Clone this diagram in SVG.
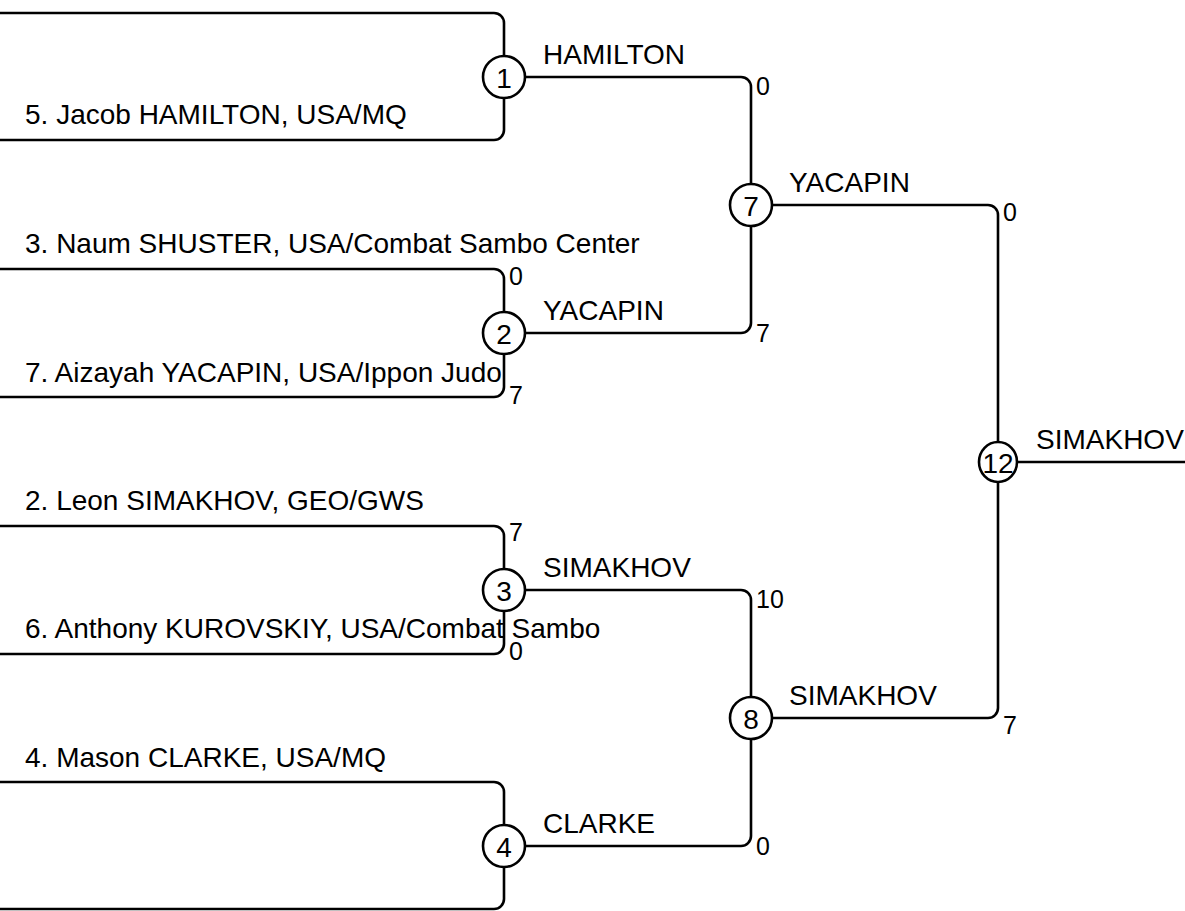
<svg xmlns="http://www.w3.org/2000/svg" width="1185" height="911" viewBox="0 0 1185 911">
<style>
.ln{fill:none;stroke:#000;stroke-width:2.6}
.c{fill:#fff;stroke:#000;stroke-width:2.6}
.t{font-family:"Liberation Sans",Arial,sans-serif;font-size:28px;fill:#000}
.s{font-family:"Liberation Sans",Arial,sans-serif;font-size:25px;fill:#000}
.n{font-family:"Liberation Sans",Arial,sans-serif;font-size:28px;fill:#000;text-anchor:middle;dominant-baseline:central}
</style>
<rect width="1185" height="911" fill="#fff"/>
<g id="connectors">
<path class="ln" d="M0,13 H494 A10,10 0 0 1 504,23 V56"/>
<path class="ln" d="M0,140 H494 A10,10 0 0 0 504,130 V98"/>
<path class="ln" d="M0,269 H494 A10,10 0 0 1 504,279 V312"/>
<path class="ln" d="M0,397 H494 A10,10 0 0 0 504,387 V354"/>
<path class="ln" d="M0,526 H494 A10,10 0 0 1 504,536 V569"/>
<path class="ln" d="M0,654 H494 A10,10 0 0 0 504,644 V611"/>
<path class="ln" d="M0,782 H494 A10,10 0 0 1 504,792 V825"/>
<path class="ln" d="M0,909 H494 A10,10 0 0 0 504,899 V867"/>
<path class="ln" d="M525,77 H741 A10,10 0 0 1 751,87 V184"/>
<path class="ln" d="M525,333 H741 A10,10 0 0 0 751,323 V226"/>
<path class="ln" d="M525,590 H741 A10,10 0 0 1 751,600 V697"/>
<path class="ln" d="M525,846 H741 A10,10 0 0 0 751,836 V739"/>
<path class="ln" d="M772,205 H988 A10,10 0 0 1 998,215 V442"/>
<path class="ln" d="M772,718 H988 A10,10 0 0 0 998,708 V482"/>
<path class="ln" d="M1017,462 H1185"/>
</g>
<g id="entrants">
<text class="t" x="25" y="124">5. Jacob HAMILTON, USA/MQ</text>
<text class="t" x="25" y="253">3. Naum SHUSTER, USA/Combat Sambo Center</text>
<text class="t" x="25" y="382">7. Aizayah YACAPIN, USA/Ippon Judo</text>
<text class="t" x="25" y="510">2. Leon SIMAKHOV, GEO/GWS</text>
<text class="t" x="25" y="638">6. Anthony KUROVSKIY, USA/Combat Sambo</text>
<text class="t" x="25" y="767">4. Mason CLARKE, USA/MQ</text>
</g>
<g id="m1"><circle class="c" cx="504" cy="77" r="21"/><text class="n" x="504" y="78">1</text><text class="t" x="543" y="64">HAMILTON</text></g>
<g id="m2"><circle class="c" cx="504" cy="333" r="21"/><text class="n" x="504" y="334">2</text><text class="t" x="543" y="320">YACAPIN</text><text class="s" x="509" y="285">0</text><text class="s" x="509" y="404">7</text></g>
<g id="m3"><circle class="c" cx="504" cy="590" r="21"/><text class="n" x="504" y="591">3</text><text class="t" x="543" y="577">SIMAKHOV</text><text class="s" x="509" y="541">7</text><text class="s" x="509" y="660">0</text></g>
<g id="m4"><circle class="c" cx="504" cy="846" r="21"/><text class="n" x="504" y="847">4</text><text class="t" x="543" y="833">CLARKE</text></g>
<g id="m7"><circle class="c" cx="751" cy="205" r="21"/><text class="n" x="751" y="206">7</text><text class="t" x="789" y="192">YACAPIN</text><text class="s" x="756" y="95">0</text><text class="s" x="756" y="342">7</text></g>
<g id="m8"><circle class="c" cx="751" cy="718" r="21"/><text class="n" x="751" y="719">8</text><text class="t" x="789" y="705">SIMAKHOV</text><text class="s" x="756" y="608">10</text><text class="s" x="756" y="855">0</text></g>
<g id="m12"><ellipse class="c" cx="998" cy="462" rx="19" ry="20"/><text class="n" x="998" y="463">12</text><text class="t" x="1036" y="449">SIMAKHOV</text><text class="s" x="1003" y="221">0</text><text class="s" x="1003" y="734">7</text></g>
</svg>
